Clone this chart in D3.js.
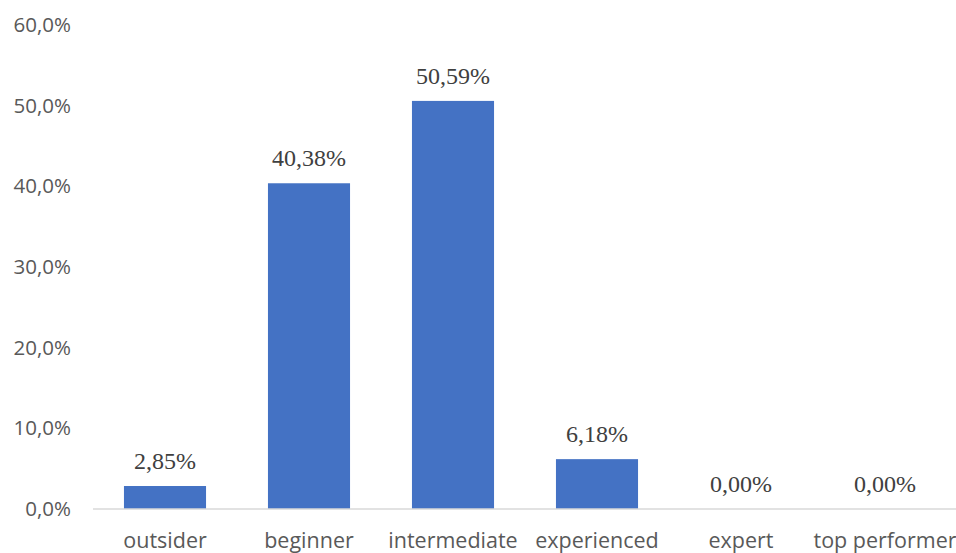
<!DOCTYPE html>
<html>
<head>
<meta charset="utf-8">
<script src="https://cdn.jsdelivr.net/npm/d3@7"></script>
<style>
  html, body { margin: 0; padding: 0; background: #ffffff; }
  svg { display: block; }
</style>
</head>
<body>
<svg id="chart" width="956" height="553"></svg>
<script>
// Skill level distribution
const categories = ["outsider", "beginner", "intermediate", "experienced", "expert", "top performer"];
const shares = [2.85, 40.38, 50.59, 6.18, 0.00, 0.00];
const tickValues = [0, 10, 20, 30, 40, 50, 60];

const W = 956, H = 553;
const margin = { left: 93, right: -1, top: 25, bottom: 44 };

const svg = d3.select("#chart");

const x = d3.scaleBand()
  .domain(categories)
  .range([margin.left, W - margin.right])
  .paddingInner(0.43)
  .paddingOuter(0.215);

const y = d3.scaleLinear()
  .domain([0, 60])
  .range([H - margin.bottom, margin.top]);

const fmtTick = d => d.toFixed(1).replace(".", ",") + "%";
const fmtVal = d => d.toFixed(2).replace(".", ",") + "%";

// y axis labels (no line, no ticks)
const yAxis = svg.append("g")
  .attr("transform", `translate(${margin.left},0)`)
  .call(d3.axisLeft(y).tickValues(tickValues).tickFormat(fmtTick).tickSize(0).tickPadding(22));
yAxis.select(".domain").remove();
yAxis.selectAll("text")
  .attr("fill", "#595959")
  .style("font-family", "'Open Sans', sans-serif")
  .style("font-size", "20.5px");

// bars
svg.append("g").selectAll("rect")
  .data(shares)
  .join("rect")
  .attr("x", (d, i) => x(categories[i]))
  .attr("width", x.bandwidth())
  .attr("y", d => y(d))
  .attr("height", d => y(0) - y(d))
  .attr("fill", "#4472c4");

// baseline
svg.append("line")
  .attr("x1", margin.left).attr("x2", W)
  .attr("y1", y(0)).attr("y2", y(0))
  .attr("stroke", "#d9d9d9").attr("stroke-width", 1.5);

// x axis labels
const xAxis = svg.append("g")
  .attr("transform", `translate(0,${y(0)})`)
  .call(d3.axisBottom(x).tickSize(0).tickPadding(24));
xAxis.select(".domain").remove();
xAxis.selectAll("text")
  .attr("fill", "#595959")
  .style("font-family", "'Open Sans', sans-serif")
  .style("font-size", "21.5px");

// value labels
svg.append("g").selectAll("text")
  .data(shares)
  .join("text")
  .attr("x", (d, i) => x(categories[i]) + x.bandwidth() / 2)
  .attr("y", d => y(d) - 17)
  .attr("text-anchor", "middle")
  .attr("fill", "#404040")
  .style("font-family", "'Liberation Serif', 'Times New Roman', serif")
  .style("font-size", "24px")
  .text(d => fmtVal(d));
</script>
</body>
</html>
